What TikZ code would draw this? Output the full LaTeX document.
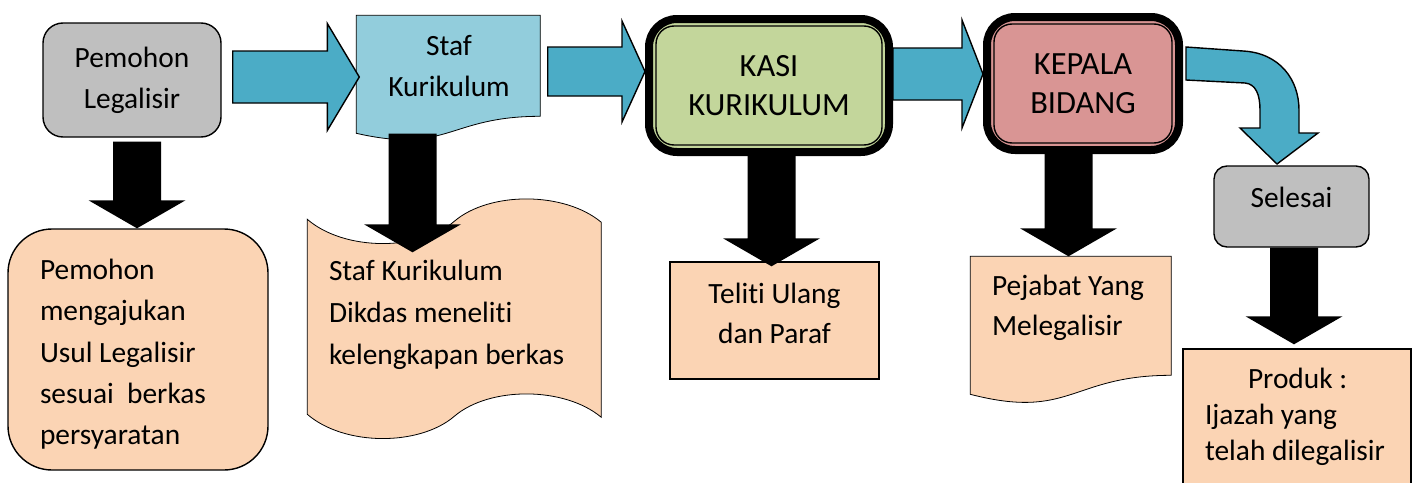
\documentclass[tikz,border=0pt]{standalone}
\usepackage{fontspec}
\setmainfont{Carlito}[Ligatures=NoCommon]
\usetikzlibrary{calc,backgrounds}
\definecolor{boxgrey}{HTML}{BFBFBF}
\definecolor{arrowblue}{HTML}{4BACC6}
\definecolor{docblue}{HTML}{92CDDC}
\definecolor{peachfill}{HTML}{FBD4B4}
\definecolor{kasigreen}{HTML}{C3D69B}
\definecolor{kabidpink}{HTML}{D99594}
\newcommand\fatdown[2]{%
  \coordinate (s) at (#1);
  \coordinate (t) at (#2);
  \fill ([xshift=-12pt]s) -- ([xshift=-12pt,yshift=14pt]t) -- ([xshift=-24.25pt,yshift=14pt]t) -- (t)
    -- ([xshift=24.25pt,yshift=14pt]t) -- ([xshift=12pt,yshift=14pt]t) -- ([xshift=12pt]s) -- cycle;}
\newcommand\fatright[5]{%
  \coordinate (s) at (#1);
  \coordinate (t) at (#2);
  \draw[bluearrow] ([yshift=#3]s) -- ([xshift=-#5,yshift=#3]t) -- ([xshift=-#5,yshift=#4]t) -- (t)
    -- ([xshift=-#5,yshift=-#4]t) -- ([xshift=-#5,yshift=-#3]t) -- ([yshift=-#3]s) -- cycle;}

\begin{document}
\begin{tikzpicture}[x=0.5pt,y=-0.5pt,line width=0.7pt,
  txt/.style={font=\fontsize{14.7}{20.5}\selectfont,align=center,inner sep=0pt},
  grey box/.style={txt,draw,fill=boxgrey,rounded corners=10pt},
  note/.style={txt,draw,fill=peachfill},
  head box/.style={draw,line width=4pt,rounded corners=14pt,inner sep=0pt,
    font=\fontsize{16.2}{19.5}\selectfont,align=center},
  bluearrow/.style={draw,fill=arrowblue,line width=0.7pt}]
\useasboundingbox (0,0) rectangle (1419,482);

\node[grey box,minimum width=89pt,minimum height=57pt] (pem) at (132,80) {Pemohon\\Legalisir};
\node[note,rounded corners=22pt,align=flush left,text width=98pt,inner xsep=16pt,minimum height=120.5pt,
  font=\fontsize{14.7}{20.6}\selectfont] (req) at (138,349.5)
  {\rule{0pt}{15pt}Pemohon\\mengajukan\\Usul Legalisir\\sesuai\ \ berkas\\persyaratan};

\node[txt,minimum width=92pt,minimum height=50.5pt] (staf) at (449,66.5) {Staf\\Kurikulum};
\node[txt,align=flush left,text width=126pt,inner xsep=10.5pt,minimum height=93pt,
  font=\fontsize{14.7}{21}\selectfont] (cek) at (455,315)
  {Staf Kurikulum\\Dikdas meneliti\\kelengkapan berkas};

\node[head box,fill=kasigreen,minimum width=120pt,minimum height=66.5pt] (kasi) at (769,85.5) {KASI\\KURIKULUM};
\node[note,minimum width=104.5pt,minimum height=58.5pt,text depth=7.5pt,font=\fontsize{14.7}{20}\selectfont] (paraf) at (774.5,320.5)
  {Teliti Ulang\\dan Paraf};

\node[head box,fill=kabidpink,minimum width=96pt,minimum height=66.5pt] (kabid) at (1083,83.5) {KEPALA\\BIDANG};
\node[txt,align=flush left,text width=79.5pt,inner xsep=10.5pt,minimum height=51pt,
  font=\fontsize{14.7}{20}\selectfont] (pej) at (1071.5,308) {Pejabat Yang\\Melegalisir};

\node[grey box,rounded corners=6.5pt,minimum width=77.5pt,minimum height=40.5pt,text depth=9pt] (selesai) at (1291.5,206.5) {Selesai};
\node[note,align=flush left,text width=92pt,inner xsep=11pt,minimum height=67.5pt,
  font=\fontsize{14.7}{18}\selectfont] (produk) at (1297,416.5)
  {\hspace*{21.5pt}Produk :\\Ijazah yang\\telah dilegalisir};

\begin{scope}[on background layer]
\draw[fill=docblue,shift={(staf.north west)}] (0,0) -- (184,0) -- (184,101)
  .. controls (92,101) and (92,139) .. (0,118) -- cycle;
\draw[fill=peachfill,shift={(cek.north west)}] (0,-2) .. controls (37,30) and (112,30) .. (147,0)
  .. controls (182,-30) and (257,-30) .. (294,1) -- (294,196)
  .. controls (257,165) and (182,165) .. (147,195) .. controls (112,225) and (37,225) .. (0,193) -- cycle;
\draw[fill=peachfill,shift={(pej.north west)}] (0,0) -- (201,0) -- (201,119)
  .. controls (100.5,119) and (100.5,164) .. (0,138) -- cycle;
\end{scope}

\draw[line width=0.7pt,rounded corners=9pt] ([shift={(11,11)}]kasi.north west) rectangle ([shift={(-11,-11)}]kasi.south east);
\draw[line width=0.7pt,rounded corners=9pt] ([shift={(11,11)}]kabid.north west) rectangle ([shift={(-11,-11)}]kabid.south east);

\fatright{$(pem.east)+(11,-3)$}{$(s -| staf.west)+(3,0)$}{13pt}{26.75pt}{16pt}
\fatright{$(staf.east)+(6,5)$}{s -| kasi.west}{12.25pt}{25.25pt}{11.5pt}
\fatright{$(kasi.east)+(0,-11.5)$}{s -| kabid.west}{13pt}{27pt}{10.5pt}

\draw[bluearrow,shift={(kabid.east)}] (3,-36.5) -- (60,-32.5) .. controls (97,-30.5) and (116,-3.5) .. (116,26.5)
  -- (116,49.5) -- (135,49.5) -- (94,80.5) -- (57,44.5) -- (77,44.5) -- (77,26.5)
  .. controls (77,11.5) and (73,0.5) .. (62,-0.5) -- (3,-3.5) -- cycle;

\fatdown{$(pem.south)+(5,4)$}{s |- req.north}
\fatdown{$(staf.south)+(-36.5,16)$}{$(s |- cek.north)+(0,31)$}
\fatdown{$(kasi.south)+(2.5,0)$}{$(s |- paraf.north)+(0,5)$}
\fatdown{$(kabid.south)+(-14.5,0)$}{s |- pej.north}
\fatdown{$(selesai.south)+(2.5,0)$}{$(s |- produk.north)+(0,-4)$}
\end{tikzpicture}
\end{document}
